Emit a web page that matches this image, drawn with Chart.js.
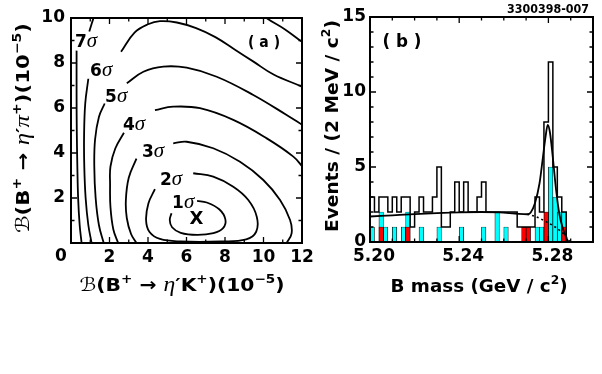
<!DOCTYPE html>
<html><head><meta charset="utf-8">
<script src="https://cdn.jsdelivr.net/npm/chart.js@4/dist/chart.umd.min.js"></script>
<style>
html,body{margin:0;padding:0;background:#fff;width:602px;height:374px;overflow:hidden}
#wr{position:absolute;left:300px;top:0;width:302px;height:374px}
#wl{position:absolute;left:0;top:0;width:330px;height:374px}
</style></head><body>
<div id="wr"><canvas id="cr" width="302" height="374"></canvas></div>
<div id="wl"><canvas id="cl" width="330" height="374"></canvas></div>
<script>
// ---------- Panel (b): B mass histogram, 2 MeV bins (low edges, GeV) ----------
const binLow = [5.200,5.202,5.204,5.206,5.208,5.210,5.212,5.214,5.216,5.218,
                5.220,5.222,5.224,5.226,5.228,5.230,5.232,5.234,5.236,5.238,
                5.240,5.242,5.244,5.246,5.248,5.250,5.252,5.254,5.256,5.258,
                5.260,5.262,5.264,5.266,5.268,5.270,5.272,5.274,5.276,5.278,
                5.280,5.282,5.284,5.286,5.288,5.290,5.292,5.294,5.296,5.298];
const binWidth = 0.002;
const totalCounts = [3,2,3,3,2,3,2,3,3,1, 2,3,2,2,3,5,1,1,2,4, 2,4,2,2,3,4,2,2,2,2,
                     2,2,2,1,1,1,1,3,2,8, 12,5,3,2,0,0,0,0,0,0];
const cyanCounts  = [1,0,2,1,0,1,0,1,2,0, 0,1,0,0,0,1,0,0,0,0, 1,0,0,0,0,1,0,0,2,0,
                     1,0,0,0,0,0,0,1,1,2, 5,3,2,2,0,0,0,0,0,0];
const redCounts   = [0,0,1,0,0,0,0,0,1,0, 0,0,0,0,0,0,0,0,0,0, 0,0,0,0,0,0,0,0,0,0,
                     0,0,0,0,1,1,0,0,0,2, 0,0,0,1,0,0,0,0,0,0];
// fit curve (solid) and background component (dotted)
const fitMass  = [5.200,5.210,5.220,5.230,5.240,5.250,5.258,5.265,5.2705,5.2720,5.2740,5.2760,5.2775,5.2787,5.2797,5.2807,5.2820,5.2835,5.2850,5.2865,5.2880,5.2890];
const fitValue = [1.70,1.78,1.86,1.93,1.98,2.00,1.97,1.90,1.85,1.95,2.6,3.9,5.6,7.0,7.8,7.3,5.6,3.4,1.8,0.9,0.3,0.0];
const bkgMass  = [5.2705,5.275,5.279,5.283,5.286,5.288,5.2897];
const bkgValue = [1.85,1.65,1.35,1.0,0.65,0.35,0.0];
const massTicks = [5.20,5.24,5.28];
const eventTicks = [0,5,10,15];

// ---------- Panel (a): likelihood contours, points [B(K), B(pi)] in 1e-5 ; null = label gap ----------
const contour1 = [[6.55,1.87],[7.05,1.80],[7.70,1.50],[8.02,1.05],[7.90,0.66],[7.40,0.44],[6.55,0.36],[5.70,0.45],[5.25,0.70],[5.13,1.02],[5.22,1.32]];
const contour2 = [[6.35,3.10],[7.39,2.95],[8.43,2.50],[9.21,1.91],[9.65,1.17],[9.62,0.50],[9.10,0.16],[7.8,0.07],[5.7,0.07],[4.62,0.18],[4.07,0.50],[3.90,1.02],[4.02,1.76],[4.36,2.39]];
const contour3 = [[3.40,0],[3.12,0.4],[2.90,1.1],[2.85,1.9],[3.00,2.9],[3.40,3.75],null,[5.31,4.43],[6.01,4.50],[7.39,4.21],[8.78,3.61],[9.99,2.80],[10.86,1.91],[11.38,1.02],[11.46,0.43],[11.2,0]];
const contour4 = [[2.45,0],[2.20,0.6],[2.05,1.6],[2.03,2.6],[2.05,3.4],[2.30,4.2],[2.75,4.9],null,[4.36,5.91],[5.31,6.06],[6.70,5.99],[8.43,5.47],[10.17,4.65],[11.55,3.84],[12.03,3.39]];
const contour5 = [[1.70,0],[1.45,0.8],[1.28,2.0],[1.21,3.4],[1.25,4.6],[1.45,5.6],[1.75,6.2],null,[2.90,7.10],[3.76,7.61],[4.79,7.84],[6.01,7.79],[7.57,7.39],[9.47,6.58],[11.2,5.69],[12.03,5.24]];
const contour6 = [[1.07,0],[0.90,0.8],[0.76,2.0],[0.69,3.4],[0.68,4.8],[0.74,6.2],[0.90,7.3],null,[2.6,8.5],[3.3,9.35],[4.0,9.72],[4.62,9.86],[5.5,9.8],[6.5,9.55],[7.5,9.15],[8.5,8.6],[9.5,8.05],[10.5,7.5],[12.0,6.95]];
const contour7 = [[0.55,0],[0.45,0.8],[0.37,2.0],[0.33,3.4],[0.30,5.0],[0.29,6.5],[0.29,8.55],null,[0.95,9.4],[1.15,9.95],[1.35,10.5],null,[9.6,10.4],[10.17,9.99],[11.1,9.5],[11.98,8.95],[12.4,8.7]];
const contourLabels = ['1','2','3','4','5','6','7'];
const contourLabelPos = [[5.25,1.56],[4.62,2.58],[3.69,3.82],[2.70,5.02],[1.77,6.27],[0.99,7.42],[0.21,8.71]];
const bestFit = [6.52,1.07];
const kTicks = [0,2,4,6,8,10,12];
const piTicks = [0,2,4,6,8,10];

// ---------- helpers ----------
Chart.defaults.font.family = '"DejaVu Sans", sans-serif';
Chart.defaults.color = '#000';
const TICKFONT = {family:'"DejaVu Sans"', size:17, weight:'bold'};
const FB = 'bold 18px "DejaVu Sans"';
const FSUP = 'bold 12px "DejaVu Sans"';
const FG = 'italic 21px "Liberation Serif"';
const FSCR = '19px "DejaVu Sans"';

function richWidth(ctx, parts){let w=0;for(const p of parts){ctx.font=p.f;w+=ctx.measureText(p.t).width;}return w;}
function drawRich(ctx, parts, x, y, opt){
  opt = opt||{};
  ctx.save();
  ctx.translate(x,y);
  if(opt.rot) ctx.rotate(opt.rot);
  const w = richWidth(ctx,parts);
  const sx = opt.width ? opt.width/w : 1;
  ctx.scale(sx,1);
  let cx = opt.align==='left' ? 0 : -w/2;
  ctx.textAlign='left'; ctx.textBaseline = opt.base||'alphabetic'; ctx.fillStyle='#000';
  for(const p of parts){ctx.font=p.f; ctx.fillText(p.t,cx,-(p.up||0)); cx+=ctx.measureText(p.t).width;}
  ctx.restore();
}
function drawFrame(ctx,a,xs,ys,xMin,xMaj,yMin,yMaj){
  ctx.save();
  ctx.strokeStyle='#000'; ctx.lineWidth=1.3; ctx.beginPath();
  const L=6, l=3.5;
  for(const [vals,len] of [[xMin,l],[xMaj,L]]) for(const v of vals){
    const p=xs.getPixelForValue(v);
    ctx.moveTo(p,a.bottom); ctx.lineTo(p,a.bottom-len); ctx.moveTo(p,a.top); ctx.lineTo(p,a.top+len);
  }
  for(const [vals,len] of [[yMin,l],[yMaj,L]]) for(const v of vals){
    const p=ys.getPixelForValue(v);
    ctx.moveTo(a.left,p); ctx.lineTo(a.left+len,p); ctx.moveTo(a.right,p); ctx.lineTo(a.right-len,p);
  }
  ctx.stroke();
  ctx.lineWidth=2; ctx.strokeRect(a.left,a.top,a.right-a.left,a.bottom-a.top);
  ctx.restore();
}
const toXY = arr => arr.map((p,i)=> p ? {x:p[0],y:p[1]} : {x:(arr[i-1]||[0])[0], y:null});

// ---------- Panel (b) chart ----------
const center = binLow.map(v => +(v + binWidth/2).toFixed(4));
const toBars = arr => arr.map((c,i)=>({x:center[i],y:c})).filter(p=>p.y>0);
const stepPts = [{x:binLow[0],y:0}].concat(binLow.map((v,i)=>({x:v,y:totalCounts[i]})), [{x:binLow[binLow.length-1]+binWidth,y:0}]);

const rightDecor = {
  id:'rightDecor',
  afterDraw(chart){
    const {ctx, chartArea:a, scales:{x,y}} = chart;
    drawFrame(ctx,a,x,y,[5.21,5.22,5.23,5.25,5.26,5.27,5.29],[5.24,5.28],
      [1,2,3,4,6,7,8,9,11,12,13,14],[5,10]);
    drawRich(ctx,[{t:'( b )',f:'bold 17px "DejaVu Sans"'}], x.getPixelForValue(5.2143), y.getPixelForValue(13.0), {width:39});
    drawRich(ctx,[{t:'3300398-007',f:'bold 11.5px "DejaVu Sans"'}], 248, 13, {width:82});
    drawRich(ctx,[{t:'B mass (GeV / c',f:FB},{t:'2',f:FSUP,up:8},{t:')',f:FB}], 179, 292, {width:177});
    drawRich(ctx,[{t:'Events / (2 MeV / c',f:FB},{t:'2',f:FSUP,up:8},{t:')',f:FB}], 38, 126, {width:212, rot:-Math.PI/2});
  }
};

const barStyle = {type:'bar', borderColor:'#000', borderWidth:0.7, grouped:false, barPercentage:1, categoryPercentage:1};
new Chart(document.getElementById('cr'), {
  type:'bar',
  data:{datasets:[
    {type:'line', data:fitMass.map((m,i)=>({x:m,y:fitValue[i]})), borderColor:'#000', borderWidth:1.8, pointRadius:0, cubicInterpolationMode:'monotone', fill:false},
    {type:'line', data:bkgMass.map((m,i)=>({x:m,y:bkgValue[i]})), borderColor:'#000', borderWidth:1.6, borderDash:[2,3], pointRadius:0, cubicInterpolationMode:'monotone', fill:false},
    {type:'line', data:stepPts, stepped:'before', borderColor:'#000', borderWidth:1.5, pointRadius:0, fill:false},
    Object.assign({data:toBars(redCounts), backgroundColor:'#ff0000'}, barStyle),
    Object.assign({data:toBars(cyanCounts), backgroundColor:'#00ffff'}, barStyle)
  ]},
  options:{
    responsive:false, animation:false, devicePixelRatio:1,
    layout:{padding:{top:17,right:9,left:0,bottom:0}},
    plugins:{legend:{display:false}, tooltip:{enabled:false}},
    scales:{
      x:{type:'linear', min:5.20, max:5.30, offset:false,
         afterBuildTicks:s=>{s.ticks = massTicks.map(v=>({value:v}));},
         ticks:{font:TICKFONT, color:'#000', padding:4, labelOffset:4, maxRotation:0, autoSkip:false, callback:v=>Number(v).toFixed(2)},
         grid:{display:false, drawTicks:false}, border:{display:false},
         afterFit:s=>{s.height=132;}},
      y:{type:'linear', min:0, max:15,
         afterBuildTicks:s=>{s.ticks = eventTicks.map(v=>({value:v}));},
         ticks:{font:TICKFONT, color:'#000', padding:4},
         grid:{display:false, drawTicks:false}, border:{display:false},
         afterFit:s=>{s.width=70;}}
    }
  },
  plugins:[rightDecor]
});

// ---------- Panel (a) chart ----------
const leftDecor = {
  id:'leftDecor',
  afterDraw(chart){
    const {ctx, chartArea:a, scales:{x,y}} = chart;
    drawFrame(ctx,a,x,y,[1,3,5,7,9,11],[2,4,6,8,10],[1,3,5,7,9],[2,4,6,8]);
    contourLabels.forEach((n,i)=>{
      const p = contourLabelPos[i];
      drawRich(ctx,[{t:n,f:'bold 17px "DejaVu Sans"'},{t:'σ',f:FG}], x.getPixelForValue(p[0]), y.getPixelForValue(p[1]), {align:'left'});
    });
    drawRich(ctx,[{t:'X',f:FB}], x.getPixelForValue(bestFit[0]), y.getPixelForValue(bestFit[1]), {base:'middle'});
    drawRich(ctx,[{t:'( a )',f:'bold 15px "DejaVu Sans"'}], x.getPixelForValue(10.03), y.getPixelForValue(8.71), {width:32});
    drawRich(ctx,[{t:'0',f:'bold 17px "DejaVu Sans"'}], 61, 257, {base:'middle'});
    drawRich(ctx,[{t:'ℬ',f:FSCR},{t:'(B',f:FB},{t:'+',f:FSUP,up:8},{t:' → ',f:FB},{t:'η',f:FG},{t:'′K',f:FB},{t:'+',f:FSUP,up:8},{t:')(10',f:FB},{t:'−5',f:FSUP,up:8},{t:')',f:FB}], 182, 291, {width:205});
    drawRich(ctx,[{t:'ℬ',f:FSCR},{t:'(B',f:FB},{t:'+',f:FSUP,up:8},{t:' → ',f:FB},{t:'η',f:FG},{t:'′',f:FB},{t:'π',f:FG},{t:'+',f:FSUP,up:8},{t:')(10',f:FB},{t:'−5',f:FSUP,up:8},{t:')',f:FB}], 29, 128, {width:210, rot:-Math.PI/2});
  }
};
const cds = [contour1,contour2,contour3,contour4,contour5,contour6,contour7].map(c=>({
  data:toXY(c), showLine:true, borderColor:'#000', borderWidth:1.8, pointRadius:0, tension:0.4, spanGaps:false, fill:false
}));
new Chart(document.getElementById('cl'), {
  type:'scatter',
  data:{datasets:cds},
  options:{
    responsive:false, animation:false, devicePixelRatio:1,
    layout:{padding:{top:18,right:28,left:0,bottom:0}},
    plugins:{legend:{display:false}, tooltip:{enabled:false}},
    scales:{
      x:{type:'linear', min:0, max:12,
         afterBuildTicks:s=>{s.ticks = kTicks.map(v=>({value:v}));},
         ticks:{font:TICKFONT, color:'#000', padding:4, maxRotation:0, autoSkip:false, callback:v=> v===0 ? '' : v},
         grid:{display:false, drawTicks:false}, border:{display:false},
         afterFit:s=>{s.height=131;}},
      y:{type:'linear', min:0, max:10,
         afterBuildTicks:s=>{s.ticks = piTicks.map(v=>({value:v}));},
         ticks:{font:TICKFONT, color:'#000', padding:6, callback:v=> v===0 ? '' : v},
         grid:{display:false, drawTicks:false}, border:{display:false},
         afterFit:s=>{s.width=71;}}
    }
  },
  plugins:[leftDecor]
});
</script>
</body></html>
